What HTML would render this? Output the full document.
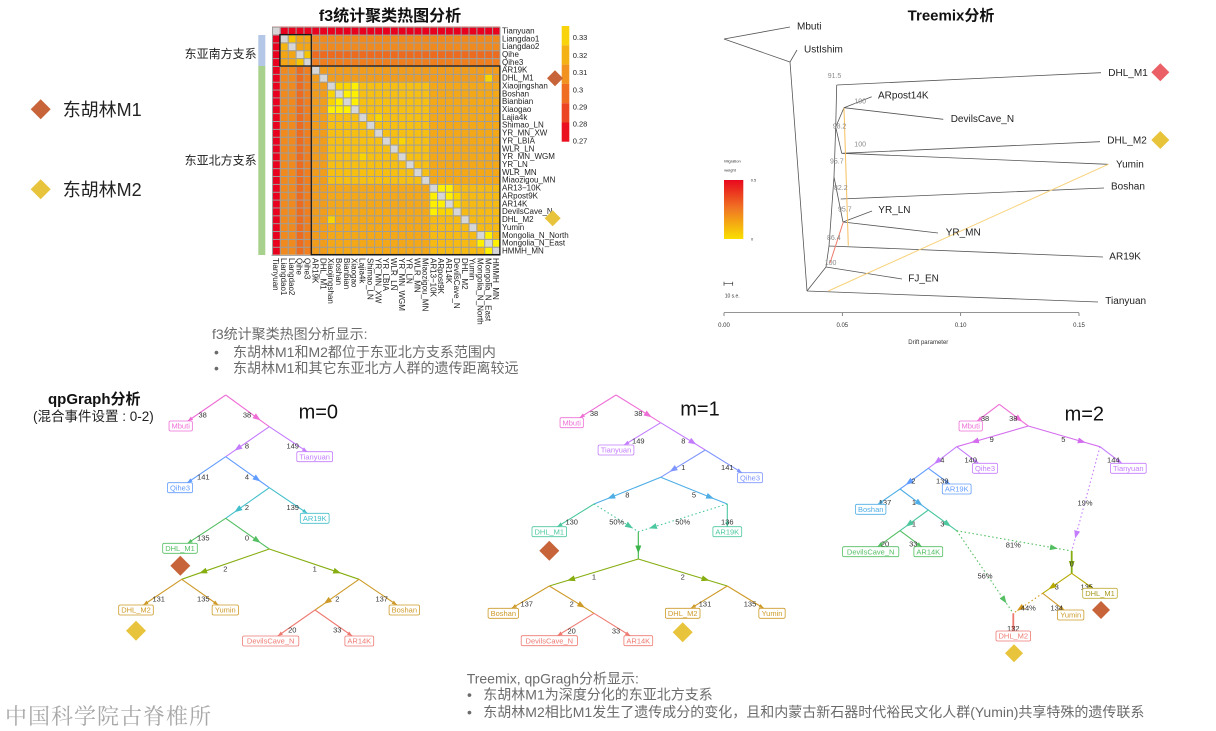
<!DOCTYPE html>
<html><head><meta charset="utf-8"><style>
html,body{margin:0;padding:0;background:#fff;}
svg{display:block;font-family:"Liberation Sans","Noto Sans CJK SC",sans-serif;}
</style></head><body>
<svg width="1216" height="731" viewBox="0 0 1216 731" xmlns="http://www.w3.org/2000/svg">
<defs>
<pattern id="grid" width="1" height="1" patternUnits="userSpaceOnUse"><path d="M0 0H1V0.13H0Z M0 0H0.13V1H0Z" fill="#9d9d9d"/></pattern>
<linearGradient id="mig" x1="0" y1="0" x2="0" y2="1"><stop offset="0" stop-color="#E8081E"/><stop offset="0.5" stop-color="#F07A22"/><stop offset="1" stop-color="#F9E000"/></linearGradient>
<marker id="Bpk" viewBox="0 0 10 10" refX="10" refY="5" markerWidth="8" markerHeight="6" orient="auto" markerUnits="userSpaceOnUse" preserveAspectRatio="none"><path d="M0 0L10 5L0 10z" fill="#EE6ED6"/></marker>
<marker id="Spk" viewBox="0 0 10 10" refX="10" refY="5" markerWidth="5" markerHeight="4" orient="auto" markerUnits="userSpaceOnUse" preserveAspectRatio="none"><path d="M0 0L10 5L0 10z" fill="#EE6ED6"/></marker>
<marker id="Bpu" viewBox="0 0 10 10" refX="10" refY="5" markerWidth="8" markerHeight="6" orient="auto" markerUnits="userSpaceOnUse" preserveAspectRatio="none"><path d="M0 0L10 5L0 10z" fill="#C47CFF"/></marker>
<marker id="Spu" viewBox="0 0 10 10" refX="10" refY="5" markerWidth="5" markerHeight="4" orient="auto" markerUnits="userSpaceOnUse" preserveAspectRatio="none"><path d="M0 0L10 5L0 10z" fill="#C47CFF"/></marker>
<marker id="Bbl" viewBox="0 0 10 10" refX="10" refY="5" markerWidth="8" markerHeight="6" orient="auto" markerUnits="userSpaceOnUse" preserveAspectRatio="none"><path d="M0 0L10 5L0 10z" fill="#619CFF"/></marker>
<marker id="Sbl" viewBox="0 0 10 10" refX="10" refY="5" markerWidth="5" markerHeight="4" orient="auto" markerUnits="userSpaceOnUse" preserveAspectRatio="none"><path d="M0 0L10 5L0 10z" fill="#619CFF"/></marker>
<marker id="Btl" viewBox="0 0 10 10" refX="10" refY="5" markerWidth="8" markerHeight="6" orient="auto" markerUnits="userSpaceOnUse" preserveAspectRatio="none"><path d="M0 0L10 5L0 10z" fill="#43BFCB"/></marker>
<marker id="Stl" viewBox="0 0 10 10" refX="10" refY="5" markerWidth="5" markerHeight="4" orient="auto" markerUnits="userSpaceOnUse" preserveAspectRatio="none"><path d="M0 0L10 5L0 10z" fill="#43BFCB"/></marker>
<marker id="Bgr" viewBox="0 0 10 10" refX="10" refY="5" markerWidth="8" markerHeight="6" orient="auto" markerUnits="userSpaceOnUse" preserveAspectRatio="none"><path d="M0 0L10 5L0 10z" fill="#53BE62"/></marker>
<marker id="Sgr" viewBox="0 0 10 10" refX="10" refY="5" markerWidth="5" markerHeight="4" orient="auto" markerUnits="userSpaceOnUse" preserveAspectRatio="none"><path d="M0 0L10 5L0 10z" fill="#53BE62"/></marker>
<marker id="Bol" viewBox="0 0 10 10" refX="10" refY="5" markerWidth="8" markerHeight="6" orient="auto" markerUnits="userSpaceOnUse" preserveAspectRatio="none"><path d="M0 0L10 5L0 10z" fill="#86AE10"/></marker>
<marker id="Bgo" viewBox="0 0 10 10" refX="10" refY="5" markerWidth="8" markerHeight="6" orient="auto" markerUnits="userSpaceOnUse" preserveAspectRatio="none"><path d="M0 0L10 5L0 10z" fill="#CE9A28"/></marker>
<marker id="Sgo" viewBox="0 0 10 10" refX="10" refY="5" markerWidth="5" markerHeight="4" orient="auto" markerUnits="userSpaceOnUse" preserveAspectRatio="none"><path d="M0 0L10 5L0 10z" fill="#CE9A28"/></marker>
<marker id="Ssa" viewBox="0 0 10 10" refX="10" refY="5" markerWidth="5" markerHeight="4" orient="auto" markerUnits="userSpaceOnUse" preserveAspectRatio="none"><path d="M0 0L10 5L0 10z" fill="#EE7A72"/></marker>
<marker id="Spw" viewBox="0 0 10 10" refX="10" refY="5" markerWidth="5" markerHeight="4" orient="auto" markerUnits="userSpaceOnUse" preserveAspectRatio="none"><path d="M0 0L10 5L0 10z" fill="#7F96FF"/></marker>
<marker id="Bpw" viewBox="0 0 10 10" refX="10" refY="5" markerWidth="8" markerHeight="6" orient="auto" markerUnits="userSpaceOnUse" preserveAspectRatio="none"><path d="M0 0L10 5L0 10z" fill="#7F96FF"/></marker>
<marker id="Blb" viewBox="0 0 10 10" refX="10" refY="5" markerWidth="8" markerHeight="6" orient="auto" markerUnits="userSpaceOnUse" preserveAspectRatio="none"><path d="M0 0L10 5L0 10z" fill="#4FAEE6"/></marker>
<marker id="Slb" viewBox="0 0 10 10" refX="10" refY="5" markerWidth="5" markerHeight="4" orient="auto" markerUnits="userSpaceOnUse" preserveAspectRatio="none"><path d="M0 0L10 5L0 10z" fill="#4FAEE6"/></marker>
<marker id="Btg" viewBox="0 0 10 10" refX="10" refY="5" markerWidth="8" markerHeight="6" orient="auto" markerUnits="userSpaceOnUse" preserveAspectRatio="none"><path d="M0 0L10 5L0 10z" fill="#4CC7A0"/></marker>
<marker id="Stg" viewBox="0 0 10 10" refX="10" refY="5" markerWidth="5" markerHeight="4" orient="auto" markerUnits="userSpaceOnUse" preserveAspectRatio="none"><path d="M0 0L10 5L0 10z" fill="#4CC7A0"/></marker>
<marker id="Bdg" viewBox="0 0 10 10" refX="10" refY="5" markerWidth="8" markerHeight="6" orient="auto" markerUnits="userSpaceOnUse" preserveAspectRatio="none"><path d="M0 0L10 5L0 10z" fill="#3CB44A"/></marker>
<marker id="Bmp" viewBox="0 0 10 10" refX="10" refY="5" markerWidth="8" markerHeight="6" orient="auto" markerUnits="userSpaceOnUse" preserveAspectRatio="none"><path d="M0 0L10 5L0 10z" fill="#D46CEE"/></marker>
<marker id="Byo" viewBox="0 0 10 10" refX="10" refY="5" markerWidth="8" markerHeight="6" orient="auto" markerUnits="userSpaceOnUse" preserveAspectRatio="none"><path d="M0 0L10 5L0 10z" fill="#B5A900"/></marker>
<marker id="Syo" viewBox="0 0 10 10" refX="10" refY="5" markerWidth="5" markerHeight="4" orient="auto" markerUnits="userSpaceOnUse" preserveAspectRatio="none"><path d="M0 0L10 5L0 10z" fill="#B5A900"/></marker>
<marker id="Bor" viewBox="0 0 10 10" refX="10" refY="5" markerWidth="8" markerHeight="6" orient="auto" markerUnits="userSpaceOnUse" preserveAspectRatio="none"><path d="M0 0L10 5L0 10z" fill="#D4981C"/></marker>
</defs>

<!-- ===== Left legend ===== -->
<polygon points="40.7,99.3 50.7,109.3 40.7,119.3 30.7,109.3" fill="#C8643A"/>
<text x="62.7" y="116" font-size="18" fill="#222">东胡林M1</text>
<polygon points="40.7,179.3 50.7,189.3 40.7,199.3 30.7,189.3" fill="#E8C43C"/>
<text x="62.7" y="196" font-size="18" fill="#222">东胡林M2</text>

<!-- ===== Heatmap ===== -->
<text x="390" y="21" font-size="16" font-weight="bold" text-anchor="middle" fill="#111">f3统计聚类热图分析</text>
<text x="256.7" y="57.9" font-size="12" text-anchor="end" fill="#222">东亚南方支系</text>
<text x="256.7" y="164.6" font-size="12" text-anchor="end" fill="#222">东亚北方支系</text>
<rect x="258.3" y="35" width="7" height="31" fill="#B4C7E7"/>
<rect x="258.3" y="66" width="7" height="189" fill="#A9D18E"/>

<g transform="translate(272,26.7) scale(7.86)">
<rect x="0" y="0" width="29" height="29" fill="#F4A817"/>
<rect x="7" y="7" width="13" height="13" fill="#F6BF12"/>
<rect x="20" y="20" width="9" height="9" fill="#F6BA13"/>
<rect x="5" y="5" width="24" height="2" fill="#F29C1C"/>
<rect x="5" y="5" width="2" height="24" fill="#F29C1C"/>
<rect x="1" y="5" width="2" height="24" fill="#F08A1E"/>
<rect x="3" y="5" width="1" height="24" fill="#EC6B1F"/>
<rect x="4" y="5" width="1" height="24" fill="#EF7E1E"/>
<rect x="5" y="1" width="24" height="2" fill="#F08A1E"/>
<rect x="5" y="3" width="24" height="1" fill="#EC6B1F"/>
<rect x="5" y="4" width="24" height="1" fill="#EF7E1E"/>
<rect x="1" y="1" width="4" height="4" fill="#F3A514"/>
<rect x="2" y="1" width="1" height="1" fill="#F7C400"/>
<rect x="1" y="2" width="1" height="1" fill="#F5B40E"/>
<rect x="4" y="3" width="1" height="1" fill="#F7C400"/>
<rect x="3" y="4" width="1" height="1" fill="#F7C400"/>
<rect x="0" y="0" width="29" height="1" fill="#E8001E"/>
<rect x="0" y="0" width="1" height="29" fill="#E8001E"/>
<path fill="#F9D400" d="M8 7h2v1h-2z M7 8h1v2h-1z M23 21h1v2h-1z M21 23h2v1h-2z M27 6h1v1h-1z M7 24h1v1h-1z M13 11h1v1h-1z M16 14h1v1h-1z M11 16h1v1h-1z"/>
<path fill="#FFF000" d="M10 7h1v1h-1z M9 8h2v1h-2z M8 9h1v1h-1z M10 9h1v1h-1z M7 10h3v1h-3z M21 20h2v1h-2z M20 21h1v1h-1z M22 21h1v1h-1z M20 22h2v1h-2z M20 23h1v1h-1z M27 26h1v1h-1z M26 27h1v1h-1z M28 27h1v1h-1z M27 28h1v1h-1z"/>
<path fill="#D6D6D6" d="M0 0h1v1h-1z M1 1h1v1h-1z M2 2h1v1h-1z M3 3h1v1h-1z M4 4h1v1h-1z M5 5h1v1h-1z M6 6h1v1h-1z M7 7h1v1h-1z M8 8h1v1h-1z M9 9h1v1h-1z M10 10h1v1h-1z M11 11h1v1h-1z M12 12h1v1h-1z M13 13h1v1h-1z M14 14h1v1h-1z M15 15h1v1h-1z M16 16h1v1h-1z M17 17h1v1h-1z M18 18h1v1h-1z M19 19h1v1h-1z M20 20h1v1h-1z M21 21h1v1h-1z M22 22h1v1h-1z M23 23h1v1h-1z M24 24h1v1h-1z M25 25h1v1h-1z M26 26h1v1h-1z M27 27h1v1h-1z M28 28h1v1h-1z"/>
<rect x="0" y="0" width="29" height="29" fill="url(#grid)"/>
<path d="M29 0V29.1H0V29" fill="none" stroke="#9d9d9d" stroke-width="0.13"/>
</g>
<rect x="279.9" y="34.6" width="31.4" height="31.4" fill="none" stroke="#1a1a1a" stroke-width="1.3"/>
<rect x="311.3" y="66" width="188.6" height="188.6" fill="none" stroke="#1a1a1a" stroke-width="1.3"/>

<g font-size="8" fill="#222">
<text x="502" y="33.4">Tianyuan</text>
<text x="502" y="41.3">Liangdao1</text>
<text x="502" y="49.2">Liangdao2</text>
<text x="502" y="57.0">Qihe</text>
<text x="502" y="64.9">Qihe3</text>
<text x="502" y="72.7">AR19K</text>
<text x="502" y="80.6">DHL_M1</text>
<text x="502" y="88.5">Xiaojingshan</text>
<text x="502" y="96.3">Boshan</text>
<text x="502" y="104.2">Bianbian</text>
<text x="502" y="112.0">Xiaogao</text>
<text x="502" y="119.9">Lajia4k</text>
<text x="502" y="127.7">Shimao_LN</text>
<text x="502" y="135.6">YR_MN_XW</text>
<text x="502" y="143.5">YR_LBIA</text>
<text x="502" y="151.3">WLR_LN</text>
<text x="502" y="159.2">YR_MN_WGM</text>
<text x="502" y="167.0">YR_LN</text>
<text x="502" y="174.9">WLR_MN</text>
<text x="502" y="182.7">Miaozigou_MN</text>
<text x="502" y="190.6">AR13−10K</text>
<text x="502" y="198.5">ARpost9K</text>
<text x="502" y="206.3">AR14K</text>
<text x="502" y="214.2">DevilsCave_N</text>
<text x="502" y="222.1">DHL_M2</text>
<text x="502" y="229.9">Yumin</text>
<text x="502" y="237.8">Mongolia_N_North</text>
<text x="502" y="245.6">Mongolia_N_East</text>
<text x="502" y="253.5">HMMH_MN</text>
</g>
<g font-size="8" fill="#222">
<text transform="translate(275.9,258) rotate(90)" dy="2.8">Tianyuan</text>
<text transform="translate(283.8,258) rotate(90)" dy="2.8">Liangdao1</text>
<text transform="translate(291.6,258) rotate(90)" dy="2.8">Liangdao2</text>
<text transform="translate(299.5,258) rotate(90)" dy="2.8">Qihe</text>
<text transform="translate(307.4,258) rotate(90)" dy="2.8">Qihe3</text>
<text transform="translate(315.2,258) rotate(90)" dy="2.8">AR19K</text>
<text transform="translate(323.1,258) rotate(90)" dy="2.8">DHL_M1</text>
<text transform="translate(330.9,258) rotate(90)" dy="2.8">Xiaojingshan</text>
<text transform="translate(338.8,258) rotate(90)" dy="2.8">Boshan</text>
<text transform="translate(346.7,258) rotate(90)" dy="2.8">Bianbian</text>
<text transform="translate(354.5,258) rotate(90)" dy="2.8">Xiaogao</text>
<text transform="translate(362.4,258) rotate(90)" dy="2.8">Lajia4k</text>
<text transform="translate(370.2,258) rotate(90)" dy="2.8">Shimao_LN</text>
<text transform="translate(378.1,258) rotate(90)" dy="2.8">YR_MN_XW</text>
<text transform="translate(386.0,258) rotate(90)" dy="2.8">YR_LBIA</text>
<text transform="translate(393.8,258) rotate(90)" dy="2.8">WLR_LN</text>
<text transform="translate(401.7,258) rotate(90)" dy="2.8">YR_MN_WGM</text>
<text transform="translate(409.5,258) rotate(90)" dy="2.8">YR_LN</text>
<text transform="translate(417.4,258) rotate(90)" dy="2.8">WLR_MN</text>
<text transform="translate(425.3,258) rotate(90)" dy="2.8">Miaozigou_MN</text>
<text transform="translate(433.1,258) rotate(90)" dy="2.8">AR13−10K</text>
<text transform="translate(441.0,258) rotate(90)" dy="2.8">ARpost9K</text>
<text transform="translate(448.8,258) rotate(90)" dy="2.8">AR14K</text>
<text transform="translate(456.7,258) rotate(90)" dy="2.8">DevilsCave_N</text>
<text transform="translate(464.6,258) rotate(90)" dy="2.8">DHL_M2</text>
<text transform="translate(472.4,258) rotate(90)" dy="2.8">Yumin</text>
<text transform="translate(480.3,258) rotate(90)" dy="2.8">Mongolia_N_North</text>
<text transform="translate(488.1,258) rotate(90)" dy="2.8">Mongolia_N_East</text>
<text transform="translate(496.0,258) rotate(90)" dy="2.8">HMMH_MN</text>
</g>

<!-- colorbar -->
<rect x="561.7" y="26" width="7.6" height="19.3" fill="#F9D30B"/>
<rect x="561.7" y="45.3" width="7.6" height="19.3" fill="#F5B214"/>
<rect x="561.7" y="64.6" width="7.6" height="19.3" fill="#F29220"/>
<rect x="561.7" y="83.9" width="7.6" height="19.3" fill="#EF6E22"/>
<rect x="561.7" y="103.2" width="7.6" height="19.3" fill="#EC4524"/>
<rect x="561.7" y="122.5" width="7.6" height="19.2" fill="#EA1020"/>
<g font-size="7.5" fill="#222">
<text x="572.7" y="39.9">0.33</text>
<text x="572.7" y="57.9">0.32</text>
<text x="572.7" y="74.9">0.31</text>
<text x="572.7" y="92.6">0.3</text>
<text x="572.7" y="109.6">0.29</text>
<text x="572.7" y="126.6">0.28</text>
<text x="572.7" y="143.6">0.27</text>
</g>
<polygon points="555,70.3 563,78.3 555,86.3 547,78.3" fill="#C8643A"/>
<polygon points="552.7,210.3 560.7,218.3 552.7,226.3 544.7,218.3" fill="#E8C43C"/>

<!-- f3 summary text -->
<g font-size="14" fill="#6b6b6b">
<text x="212" y="339">f3统计聚类热图分析显示:</text>
<text x="214" y="357">•</text><text x="233" y="357">东胡林M1和M2都位于东亚北方支系范围内</text>
<text x="214" y="373">•</text><text x="233" y="373">东胡林M1和其它东亚北方人群的遗传距离较远</text>
</g>

<!-- ===== Treemix ===== -->
<text x="951" y="20.5" font-size="15" font-weight="bold" text-anchor="middle" fill="#111">Treemix分析</text>
<g stroke="#555" stroke-width="0.8" fill="none">
<path d="M724 39L790 27 M724 39L790 62L797 50 M790 62L807 291 M807 291L1098 302 M807 291L826 267 M826 267L902 279 M826 267L829 246 M829 246L1103 257 M829 246L834 177 M834 177L843 222 M843 222L872 211 M843 222L938 233 M840.7 199L1104 188 M834 177L835.7 127 M835.7 127L836.7 85 M836.7 85L1101 72.7 M835.7 127L844 107.7 M844 107.7L871.7 96.7 M844 107.7L943.3 119.3 M835.7 127L841.7 153.3 M841.7 153.3L1100 141.7 M841.7 153.3L1108.3 164.3"/>
</g>
<line x1="828.3" y1="291" x2="1108.3" y2="164.3" stroke="#F8D27A" stroke-width="1"/>
<line x1="844" y1="108" x2="848.3" y2="245.7" stroke="#F6C060" stroke-width="1"/>
<line x1="830" y1="263" x2="843.3" y2="222" stroke="#F07B6A" stroke-width="1"/>
<g font-size="10" fill="#222">
<text x="797" y="29.6">Mbuti</text>
<text x="804" y="52.6">UstIshim</text>
<text x="878" y="98.3">ARpost14K</text>
<text x="950.7" y="121.9">DevilsCave_N</text>
<text x="1108.3" y="75.9">DHL_M1</text>
<text x="1107.3" y="143.6">DHL_M2</text>
<text x="1116" y="167.6">Yumin</text>
<text x="1111" y="189.6">Boshan</text>
<text x="878.3" y="212.9">YR_LN</text>
<text x="945.7" y="235.6">YR_MN</text>
<text x="1109.3" y="259.3">AR19K</text>
<text x="908.3" y="281.6">FJ_EN</text>
<text x="1105.3" y="303.9">Tianyuan</text>
</g>
<g font-size="7" fill="#8a8a8a">
<text x="827.7" y="77.8">91.5</text>
<text x="854.3" y="103.5">100</text>
<text x="832.7" y="128.5">98.2</text>
<text x="854.3" y="146.5">100</text>
<text x="830" y="163.5">95.7</text>
<text x="834" y="189.8">82.2</text>
<text x="838" y="211.5">95.7</text>
<text x="827" y="239.8">86.4</text>
<text x="824.7" y="264.8">100</text>
</g>
<text x="724.3" y="162.7" font-size="4" fill="#333">Migration</text>
<text x="724.3" y="171.7" font-size="4" fill="#333">weight</text>
<rect x="724" y="180" width="19.3" height="59" fill="url(#mig)"/>
<text x="750.7" y="181.7" font-size="4" fill="#333">0.5</text>
<text x="751" y="240.4" font-size="4" fill="#333">0</text>
<path d="M724 283.7H732.7 M724 281.7V285.7 M732.7 281.7V285.7" stroke="#333" stroke-width="0.7"/>
<text x="724.7" y="297.5" font-size="5" fill="#333">10 s.e.</text>
<path d="M724 312.7H1079 M724 312.7V316 M842.3 312.7V316 M960.7 312.7V316 M1079 312.7V316" stroke="#555" stroke-width="0.7"/>
<g font-size="6" fill="#333" text-anchor="middle">
<text x="724" y="327">0.00</text>
<text x="842.3" y="327">0.05</text>
<text x="960.7" y="327">0.10</text>
<text x="1079" y="327">0.15</text>
<text x="928.3" y="344">Drift parameter</text>
</g>
<polygon points="1160.3,63.3 1169.3,72.3 1160.3,81.3 1151.3,72.3" fill="#EB6066"/>
<polygon points="1160.3,131 1169.3,140 1160.3,149 1151.3,140" fill="#E8C43A"/>

<!-- ===== qpGraph header ===== -->
<text x="48" y="404" font-size="15" font-weight="bold" fill="#111">qpGraph分析</text>
<text x="33" y="421" font-size="13.5" fill="#222">(混合事件设置 : 0-2)</text>

<!-- ===== m=0 ===== -->
<text x="318.3" y="418.7" font-size="20" text-anchor="middle" fill="#111">m=0</text>
<g fill="none" stroke-width="1.1">
<polyline points="225.7,395 187.9,421" stroke="#EE6ED6" marker-end="url(#Spk)"/>
<polyline points="225.7,395 260.6,420.4 269.3,426.7" stroke="#EE6ED6" marker-mid="url(#Bpk)"/>
<polyline points="269.3,426.7 307.1,451.7" stroke="#C47CFF" marker-end="url(#Spu)"/>
<polyline points="269.3,426.7 234.4,450.7 225.7,456.7" stroke="#C47CFF" marker-mid="url(#Bpu)"/>
<polyline points="225.7,456.7 187.4,482.7" stroke="#619CFF" marker-end="url(#Sbl)"/>
<polyline points="225.7,456.7 260.6,481.5 269.3,487.7" stroke="#619CFF" marker-mid="url(#Bbl)"/>
<polyline points="269.3,487.7 307.3,513.3" stroke="#43BFCB" marker-end="url(#Stl)"/>
<polyline points="269.3,487.7 234.4,512.2 225.7,518.3" stroke="#43BFCB" marker-mid="url(#Btl)"/>
<polyline points="225.7,518.3 187.6,543.3" stroke="#53BE62" marker-end="url(#Sgr)"/>
<polyline points="225.7,518.3 260.6,542.9 269.3,549" stroke="#53BE62" marker-mid="url(#Bgr)"/>
<polyline points="269.3,549 199.2,573.2 181.7,579.3" stroke="#86AE10" marker-mid="url(#Bol)"/>
<polyline points="269.3,549 341.1,573.2 359,579.3" stroke="#86AE10" marker-mid="url(#Bol)"/>
<polyline points="181.7,579.3 143.4,605" stroke="#CE9A28" marker-end="url(#Sgo)"/>
<polyline points="181.7,579.3 218.2,605" stroke="#CE9A28" marker-end="url(#Sgo)"/>
<polyline points="359,579.3 323.8,603.9 315,610" stroke="#CE9A28" marker-mid="url(#Bgo)"/>
<polyline points="359,579.3 396.9,605" stroke="#CE9A28" marker-end="url(#Sgo)"/>
<polyline points="315,610 277.8,636" stroke="#EE7A72" marker-end="url(#Ssa)"/>
<polyline points="315,610 352.2,636" stroke="#EE7A72" marker-end="url(#Ssa)"/>
</g>
<g font-size="7.5" fill="#333" text-anchor="middle">
<text x="202.7" y="417.7">38</text><text x="247" y="417.7">38</text>
<text x="292.7" y="448.4">149</text><text x="247" y="448.4">8</text>
<text x="203.3" y="479.4">141</text><text x="247" y="479.4">4</text>
<text x="292.7" y="510">139</text><text x="247" y="510">2</text>
<text x="203.3" y="540.4">135</text><text x="247" y="540.4">0</text>
<text x="225.3" y="571.7">2</text><text x="314.7" y="571.7">1</text>
<text x="158.7" y="601.7">131</text><text x="203.3" y="601.7">135</text>
<text x="337.3" y="601.7">2</text><text x="381.7" y="601.7">137</text>
<text x="292.3" y="632.7">20</text><text x="337.3" y="632.7">33</text>
</g>
<g fill="#fff" stroke-width="0.8">
<rect x="169.05" y="421" width="23.3" height="10" rx="1.5" stroke="#EE6ED6"/>
<rect x="296.8" y="451.7" width="35.8" height="10" rx="1.5" stroke="#C47CFF"/>
<rect x="167.5" y="482.7" width="25" height="10" rx="1.5" stroke="#619CFF"/>
<rect x="300.3" y="513.3" width="28.8" height="10" rx="1.5" stroke="#43BFCB"/>
<rect x="162.7" y="543.3" width="34.6" height="10" rx="1.5" stroke="#53BE62"/>
<rect x="118.7" y="605" width="34.6" height="10" rx="1.5" stroke="#CE9A28"/>
<rect x="212.15" y="605" width="26.3" height="10" rx="1.5" stroke="#CE9A28"/>
<rect x="389.1" y="605" width="30.4" height="10" rx="1.5" stroke="#CE9A28"/>
<rect x="242.6" y="636" width="56.2" height="10" rx="1.5" stroke="#EE7A72"/>
<rect x="344.9" y="636" width="28.8" height="10" rx="1.5" stroke="#EE7A72"/>
</g>
<g font-size="7.5" text-anchor="middle">
<text x="180.7" y="428.7" fill="#EE6ED6">Mbuti</text>
<text x="314.7" y="459.4" fill="#C47CFF">Tianyuan</text>
<text x="180" y="490.4" fill="#619CFF">Qihe3</text>
<text x="314.7" y="521" fill="#43BFCB">AR19K</text>
<text x="180" y="551" fill="#53BE62">DHL_M1</text>
<text x="136" y="612.7" fill="#CE9A28">DHL_M2</text>
<text x="225.3" y="612.7" fill="#CE9A28">Yumin</text>
<text x="404.3" y="612.7" fill="#CE9A28">Boshan</text>
<text x="270.7" y="643.7" fill="#EE7A72">DevilsCave_N</text>
<text x="359.3" y="643.7" fill="#EE7A72">AR14K</text>
</g>
<polygon points="180.3,555.7 190.3,565.7 180.3,575.7 170.3,565.7" fill="#C8643A"/>
<polygon points="136,620.7 146,630.7 136,640.7 126,630.7" fill="#E8C43C"/>

<!-- ===== m=1 ===== -->
<text x="700" y="415.3" font-size="20" text-anchor="middle" fill="#111">m=1</text>
<g fill="none" stroke-width="1.1">
<polyline points="616,395 579.7,417.7" stroke="#EE6ED6" marker-end="url(#Spk)"/>
<polyline points="616,395 651.8,417.2 660.7,422.7" stroke="#EE6ED6" marker-mid="url(#Bpk)"/>
<polyline points="660.7,422.7 624.2,445" stroke="#C47CFF" marker-end="url(#Spu)"/>
<polyline points="660.7,422.7 696.4,444.5 705.3,450" stroke="#C47CFF" marker-mid="url(#Bpu)"/>
<polyline points="705.3,450 741.9,472.7" stroke="#7F96FF" marker-end="url(#Spw)"/>
<polyline points="705.3,450 669.6,471.8 660.7,477.3" stroke="#7F96FF" marker-mid="url(#Bpw)"/>
<polyline points="660.7,477.3 607.3,498.7 594,504" stroke="#4FAEE6" marker-mid="url(#Blb)"/>
<polyline points="660.7,477.3 714,498.7 727.3,504" stroke="#4FAEE6" marker-mid="url(#Blb)"/>
<polyline points="594,504 557.4,526.7" stroke="#4CC7A0" marker-end="url(#Stg)"/>
<polyline points="727.3,504 727.3,526.7" stroke="#4CC7A0" marker-end="url(#Stg)"/>
<polyline points="594,504 633,528.4 638.3,531.7" stroke="#4CC7A0" stroke-dasharray="1.5,2.5" marker-mid="url(#Btg)"/>
<polyline points="727.3,504 649,528.4 638.3,531.7" stroke="#4CC7A0" stroke-dasharray="1.5,2.5" marker-mid="url(#Btg)"/>
<polyline points="638.3,531.7 638.3,553.5 638.3,559" stroke="#3CB44A" marker-mid="url(#Bdg)"/>
<polyline points="638.3,559 567.1,580.6 549.3,586" stroke="#86AE10" marker-mid="url(#Bol)"/>
<polyline points="638.3,559 709.5,580.6 727.3,586" stroke="#86AE10" marker-mid="url(#Bol)"/>
<polyline points="549.3,586 511.7,608.3" stroke="#CE9A28" marker-end="url(#Sgo)"/>
<polyline points="549.3,586 585.1,607.8 594,613.3" stroke="#CE9A28" marker-mid="url(#Bgo)"/>
<polyline points="594,613.3 557.4,635.7" stroke="#EE7A72" marker-end="url(#Ssa)"/>
<polyline points="594,613.3 630.2,635.7" stroke="#EE7A72" marker-end="url(#Ssa)"/>
<polyline points="727.3,586 690.9,608.3" stroke="#CE9A28" marker-end="url(#Sgo)"/>
<polyline points="727.3,586 763.8,608.3" stroke="#CE9A28" marker-end="url(#Sgo)"/>
</g>
<g font-size="7.5" fill="#333" text-anchor="middle">
<text x="594" y="416">38</text><text x="638.3" y="416">38</text>
<text x="638.3" y="443.4">149</text><text x="683.3" y="443.4">8</text>
<text x="727.3" y="470">141</text><text x="683.3" y="470">1</text>
<text x="627.3" y="497.7">8</text><text x="694" y="497.7">5</text>
<text x="571.7" y="524.4">130</text><text x="727.3" y="524.4">136</text>
<text x="616.7" y="524.4">50%</text><text x="682.7" y="524.4">50%</text>
<text x="594" y="579.4">1</text><text x="682.7" y="579.4">2</text>
<text x="526.7" y="606.7">137</text><text x="571.7" y="606.7">2</text>
<text x="571.7" y="633.4">20</text><text x="616" y="633.4">33</text>
<text x="705" y="606.7">131</text><text x="750" y="606.7">135</text>
</g>
<g fill="#fff" stroke-width="0.8">
<rect x="560.05" y="417.7" width="23.3" height="10" rx="1.5" stroke="#EE6ED6"/>
<rect x="598.1" y="445" width="35.8" height="10" rx="1.5" stroke="#C47CFF"/>
<rect x="737.5" y="472.7" width="25" height="10" rx="1.5" stroke="#7F96FF"/>
<rect x="532" y="526.7" width="34.6" height="10" rx="1.5" stroke="#4CC7A0"/>
<rect x="712.9" y="526.7" width="28.8" height="10" rx="1.5" stroke="#4CC7A0"/>
<rect x="488.1" y="608.3" width="30.4" height="10" rx="1.5" stroke="#CE9A28"/>
<rect x="521.2" y="635.7" width="56.2" height="10" rx="1.5" stroke="#EE7A72"/>
<rect x="623.9" y="635.7" width="28.8" height="10" rx="1.5" stroke="#EE7A72"/>
<rect x="665.4" y="608.3" width="34.6" height="10" rx="1.5" stroke="#CE9A28"/>
<rect x="758.85" y="608.3" width="26.3" height="10" rx="1.5" stroke="#CE9A28"/>
</g>
<g font-size="7.5" text-anchor="middle">
<text x="571.7" y="425.4" fill="#EE6ED6">Mbuti</text>
<text x="616" y="452.7" fill="#C47CFF">Tianyuan</text>
<text x="750" y="480.4" fill="#7F96FF">Qihe3</text>
<text x="549.3" y="534.4" fill="#4CC7A0">DHL_M1</text>
<text x="727.3" y="534.4" fill="#4CC7A0">AR19K</text>
<text x="503.3" y="616" fill="#CE9A28">Boshan</text>
<text x="549.3" y="643.4" fill="#EE7A72">DevilsCave_N</text>
<text x="638.3" y="643.4" fill="#EE7A72">AR14K</text>
<text x="682.7" y="616" fill="#CE9A28">DHL_M2</text>
<text x="772" y="616" fill="#CE9A28">Yumin</text>
</g>
<polygon points="549.3,540.7 559.3,550.7 549.3,560.7 539.3,550.7" fill="#C8643A"/>
<polygon points="682.7,622.3 692.7,632.3 682.7,642.3 672.7,632.3" fill="#E8C43C"/>

<!-- ===== m=2 ===== -->
<text x="1084.3" y="420.3" font-size="20" text-anchor="middle" fill="#111">m=2</text>
<g fill="none" stroke-width="1.1">
<polyline points="999.3,404.3 977.3,421" stroke="#EE6ED6" marker-end="url(#Spk)"/>
<polyline points="999.3,404.3 1022.5,421.7 1028.3,426" stroke="#EE6ED6" marker-mid="url(#Bpk)"/>
<polyline points="1028.3,426 971,442.6 956.7,446.7" stroke="#D46CEE" marker-mid="url(#Bmp)"/>
<polyline points="1028.3,426 1085.7,442.6 1100,446.7" stroke="#D46CEE" marker-mid="url(#Bmp)"/>
<polyline points="1100,446.7 1121.8,463.3" stroke="#C47CFF" marker-end="url(#Spu)"/>
<polyline points="1100,446.7 1075.1,538.5 1071.7,551" stroke="#C47CFF" stroke-dasharray="1.5,2.5" marker-mid="url(#Bpu)"/>
<polyline points="956.7,446.7 978.5,463.3" stroke="#C47CFF" marker-end="url(#Spu)"/>
<polyline points="956.7,446.7 934,464 928.3,468.3" stroke="#C47CFF" marker-mid="url(#Bpu)"/>
<polyline points="928.3,468.3 949.8,484" stroke="#619CFF" marker-end="url(#Sbl)"/>
<polyline points="928.3,468.3 905.7,484.9 900,489" stroke="#619CFF" marker-mid="url(#Bbl)"/>
<polyline points="900,489 877.9,504.3" stroke="#4FAEE6" marker-end="url(#Slb)"/>
<polyline points="900,489 922.6,505.8 928.3,510" stroke="#4FAEE6" marker-mid="url(#Blb)"/>
<polyline points="928.3,510 905.7,526.6 900,530.7" stroke="#4CC7A0" marker-mid="url(#Btg)"/>
<polyline points="928.3,510 951,526.6 956.7,530.7" stroke="#4CC7A0" marker-mid="url(#Btg)"/>
<polyline points="900,530.7 877.7,546.7" stroke="#53BE62" marker-end="url(#Sgr)"/>
<polyline points="900,530.7 921.6,546.7" stroke="#53BE62" marker-end="url(#Sgr)"/>
<polyline points="956.7,530.7 1057.9,548.6 1071.7,551" stroke="#53BE62" stroke-dasharray="1.5,2.5" marker-mid="url(#Bgr)"/>
<polyline points="956.7,530.7 1006.5,603.4 1013.3,613.3" stroke="#53BE62" stroke-dasharray="1.5,2.5" marker-mid="url(#Bgr)"/>
<polyline points="1071.7,551 1071.7,568.8 1071.7,573.3" stroke="#86AE10" stroke-width="1.8" marker-mid="url(#Bol)"/>
<polyline points="1071.7,573.3 1048.5,589.3 1042.7,593.3" stroke="#B5A900" marker-mid="url(#Byo)"/>
<polyline points="1071.7,573.3 1092.9,588.3" stroke="#B5A900" marker-end="url(#Syo)"/>
<polyline points="1042.7,593.3 1064.2,610" stroke="#CE9A28" marker-end="url(#Sgo)"/>
<polyline points="1042.7,593.3 1016.8,610.9 1013.3,613.3" stroke="#D4981C" stroke-dasharray="1.5,2.5" marker-mid="url(#Bor)"/>
<polyline points="1013.3,613.3 1013.3,631" stroke="#EE7A72" stroke-width="1.8" marker-end="url(#Ssa)"/>
</g>
<g font-size="7.5" fill="#333" text-anchor="middle">
<text x="985" y="421">38</text><text x="1013.3" y="421">38</text>
<text x="991.7" y="442">9</text><text x="1063.3" y="442">5</text>
<text x="1113.3" y="462.7">144</text><text x="1085" y="505.4">19%</text>
<text x="970.7" y="462.7">140</text><text x="942.3" y="462.7">4</text>
<text x="942.3" y="483.4">139</text><text x="913.3" y="483.4">2</text>
<text x="885" y="505">137</text><text x="914" y="505">1</text>
<text x="914" y="526.7">1</text><text x="942.3" y="526.7">3</text>
<text x="885" y="546.7">20</text><text x="913.3" y="546.7">33</text>
<text x="1013.3" y="547.7">81%</text><text x="985" y="578.7">56%</text>
<text x="1071.7" y="566.7">0</text>
<text x="1056.7" y="589.4">3</text><text x="1086.7" y="589.4">135</text>
<text x="1056.7" y="610.4">134</text><text x="1028.3" y="610.4">44%</text>
<text x="1013.3" y="631">132</text>
</g>
<g fill="#fff" stroke-width="0.8">
<rect x="959.05" y="421" width="23.3" height="10" rx="1.5" stroke="#EE6ED6"/>
<rect x="1110.4" y="463.3" width="35.8" height="10" rx="1.5" stroke="#C47CFF"/>
<rect x="972.5" y="463.3" width="25" height="10" rx="1.5" stroke="#C47CFF"/>
<rect x="942.3" y="484" width="28.8" height="10" rx="1.5" stroke="#619CFF"/>
<rect x="855.5" y="504.3" width="30.4" height="10" rx="1.5" stroke="#4FAEE6"/>
<rect x="842.6" y="546.7" width="56.2" height="10" rx="1.5" stroke="#53BE62"/>
<rect x="913.9" y="546.7" width="28.8" height="10" rx="1.5" stroke="#53BE62"/>
<rect x="1082.7" y="588.3" width="34.6" height="10" rx="1.5" stroke="#BFAE3A"/>
<rect x="1057.55" y="610" width="26.3" height="10" rx="1.5" stroke="#CE9A28"/>
<rect x="996" y="631" width="34.6" height="10" rx="1.5" stroke="#EE7A72"/>
</g>
<g font-size="7.5" text-anchor="middle">
<text x="970.7" y="428.7" fill="#EE6ED6">Mbuti</text>
<text x="1128.3" y="471" fill="#C47CFF">Tianyuan</text>
<text x="985" y="471" fill="#C47CFF">Qihe3</text>
<text x="956.7" y="491.7" fill="#619CFF">AR19K</text>
<text x="870.7" y="512" fill="#4FAEE6">Boshan</text>
<text x="870.7" y="554.4" fill="#53BE62">DevilsCave_N</text>
<text x="928.3" y="554.4" fill="#53BE62">AR14K</text>
<text x="1100" y="596" fill="#A89A20">DHL_M1</text>
<text x="1070.7" y="617.7" fill="#CE9A28">Yumin</text>
<text x="1013.3" y="638.7" fill="#EE7A72">DHL_M2</text>
</g>
<polygon points="1101,601 1110,610 1101,619 1092,610" fill="#C8643A"/>
<polygon points="1014,644.3 1023,653.3 1014,662.3 1005,653.3" fill="#E8C43C"/>

<!-- ===== bottom text ===== -->
<g font-size="14" fill="#6b6b6b">
<text x="466.7" y="683.5">Treemix, qpGragh分析显示:</text>
<text x="467" y="699.5">•</text><text x="483.3" y="699.5">东胡林M1为深度分化的东亚北方支系</text>
<text x="467" y="717">•</text><text x="483.3" y="717">东胡林M2相比M1发生了遗传成分的变化，且和内蒙古新石器时代裕民文化人群(Yumin)共享特殊的遗传联系</text>
</g>
<text x="5" y="724" font-size="22" letter-spacing="1" fill="#a8a8a8" style="font-family:'Noto Serif CJK SC','Noto Sans CJK SC',serif;">中国科学院古脊椎所</text>
</svg>
</body></html>
